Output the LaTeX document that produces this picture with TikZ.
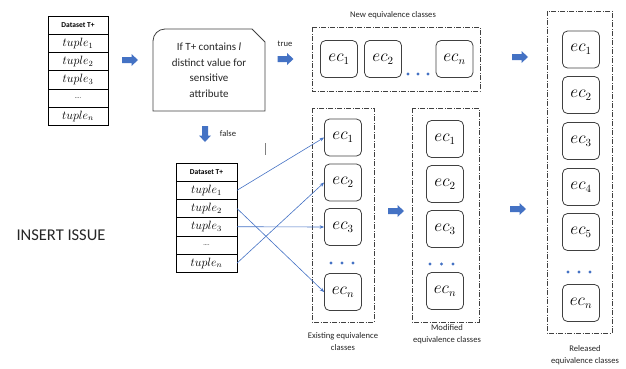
\documentclass[tikz,border=0pt]{standalone}
\usepackage{fontspec}
\setmainfont{Carlito}
\usetikzlibrary{arrows.meta}

\definecolor{officeblue}{HTML}{4472C4}
\definecolor{frameline}{HTML}{404040}
\definecolor{labeltext}{HTML}{262626}

\begin{document}
\begin{tikzpicture}[x=1pt, y=-1pt,
  ecbox/.style={draw=frameline, line width=0.8pt, rounded corners=5pt,
    minimum width=37pt, minimum height=37pt, inner sep=0pt,
    font=\fontsize{16}{18}\selectfont},
  groupframe/.style={draw=frameline, line width=0.7pt,
    dash pattern=on 5pt off 1.5pt on 1pt off 1.5pt},
  rowcell/.style={draw=black, line width=0.6pt, minimum width=60pt,
    minimum height=18.2pt, inner sep=0pt, outer sep=0pt,
    font=\fontsize{12}{14}\selectfont},
  headcell/.style={rowcell, font=\fontsize{7.5}{9}\selectfont\bfseries},
  caption/.style={font=\fontsize{8.6}{12}\selectfont, text=labeltext, align=center, inner sep=0pt},
  link/.style={draw=officeblue, line width=0.6pt, -{Stealth[length=4.5pt, width=3.5pt]}},
  blockarrow/.pic={\fill[officeblue] (-8,-3) -- (1.5,-3) -- (1.5,-6) -- (8,0)
      -- (1.5,6) -- (1.5,3) -- (-8,3) -- cycle;},
  seqdot/.style={fill=officeblue, circle, inner sep=0pt, minimum size=3.2pt}
]
\useasboundingbox (0,0) rectangle (626,368);

% ---------- input table ----------
\node[headcell, anchor=north] (h1) at (78,16) {Dataset T+};
\node[rowcell, anchor=north] (a1) at (h1.south) {$tuple_1$};
\node[rowcell, anchor=north] (a2) at (a1.south) {$tuple_2$};
\node[rowcell, anchor=north] (a3) at (a2.south) {$tuple_3$};
\node[rowcell, anchor=north, font=\fontsize{6}{7}\selectfont] (a4) at (a3.south) {....};
\node[rowcell, anchor=north] (an) at (a4.south) {$tuple_n$};

\pic at (130,60) {blockarrow};

% ---------- condition box ----------
\draw[draw=frameline, line width=0.8pt]
  (153,111) -- (153,41) arc[start angle=180, end angle=270, radius=12]
  -- (252,29) -- (265,42) -- (265,111) -- cycle;
\node[align=center, font=\fontsize{11}{15.5}\selectfont, text=labeltext] (cond) at (209,70)
  {If T+ contains \textit{l}\\distinct value for\\sensitive\\attribute};

\node[caption] (truelbl) at (285,44) {true};
\pic at (285.5,59) {blockarrow};

\pic[rotate=-90] at (205,134) {blockarrow};
\node[caption] (falselbl) at (228,134) {false};

\draw[gray, line width=0.8pt] (265,143) -- (265,155);

% ---------- new equivalence classes ----------
\node[caption] (newlbl) at (393,15) {New equivalence classes};
\draw[groupframe] (312,27) rectangle (480,91);
\node[ecbox] (nec1) at (339,59) {$ec_1$};
\node[ecbox] (nec2) at (383,59) {$ec_2$};
\node[ecbox] (necn) at (454.5,59) {$ec_n$};
\foreach \dx in {408,418,428} \node[seqdot] at (\dx,74) {};

\pic at (520,57) {blockarrow};

% ---------- second table ----------
\node[headcell, anchor=north, minimum width=61pt] (h2) at (206.5,163) {Dataset T+};
\node[rowcell, anchor=north, minimum width=61pt] (b1) at (h2.south) {$tuple_1$};
\node[rowcell, anchor=north, minimum width=61pt] (b2) at (b1.south) {$tuple_2$};
\node[rowcell, anchor=north, minimum width=61pt] (b3) at (b2.south) {$tuple_3$};
\node[rowcell, anchor=north, minimum width=61pt, font=\fontsize{6}{7}\selectfont] (b4) at (b3.south) {....};
\node[rowcell, anchor=north, minimum width=61pt] (bn) at (b4.south) {$tuple_n$};

\node[font=\fontsize{16.5}{18}\selectfont, text=labeltext] (issue) at (61,235) {INSERT ISSUE};

% ---------- existing equivalence classes ----------
\draw[groupframe] (312,108) rectangle (374,322);
\node[ecbox] (xec1) at (343,137.5) {$ec_1$};
\node[ecbox] (xec2) at (343,182.5) {$ec_2$};
\node[ecbox] (xec3) at (343,227) {$ec_3$};
\node[ecbox] (xecn) at (343,292) {$ec_n$};
\foreach \dx in {331,342,353} \node[seqdot] at (\dx,263) {};
\node[caption] (xlbl) at (343,342) {Existing equivalence\\classes};

\draw[link] (b1.east) -- (xec1.west);
\draw[link] (b2.east) -- (xecn.west);
\draw[link] (b3.east) -- (xec3.west);
\draw[link] (bn.east) -- (xec2.west);

\pic at (396,211) {blockarrow};

% ---------- modified equivalence classes ----------
\draw[groupframe] (412,108) rectangle (479,322);
\node[ecbox] (mec1) at (445,139) {$ec_1$};
\node[ecbox] (mec2) at (445,184) {$ec_2$};
\node[ecbox] (mec3) at (445,229) {$ec_3$};
\node[ecbox] (mecn) at (445,291) {$ec_n$};
\foreach \dx in {430,441.5,453} \node[seqdot] at (\dx,264) {};
\node[caption] (mlbl) at (447,334.5) {Modified\\equivalence classes};

\pic at (518,209) {blockarrow};

% ---------- released equivalence classes ----------
\draw[groupframe] (547,11) rectangle (612,333);
\node[ecbox] (rec1) at (581,49.5) {$ec_1$};
\node[ecbox] (rec2) at (581,95) {$ec_2$};
\node[ecbox] (rec3) at (581,141) {$ec_3$};
\node[ecbox] (rec4) at (581,187) {$ec_4$};
\node[ecbox] (rec5) at (581,232) {$ec_5$};
\node[ecbox] (recn) at (581,303) {$ec_n$};
\foreach \dx in {568,579,590} \node[seqdot] at (\dx,272) {};
\node[caption] (rlbl) at (585,355) {Released\\equivalence classes};
\end{tikzpicture}
\end{document}
